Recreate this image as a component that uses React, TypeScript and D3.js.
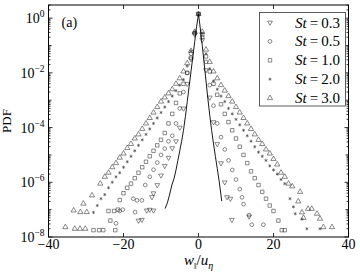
import React, { useEffect, useRef } from "react";
import * as d3 from "d3";

// values: w (in u_eta units) and log10 of the PDF
const st03W = [-16, -15.1, -13.8, -13, -12.4, -12, -12, -11, -10, -9, -8, -7, -6, -5, -4, -3, -2, -1, 0, 1, 2, 3, 4, 5, 6, 7, 7.6, 8.5, 8.9, 13.5];
const st03LogPdf = [-7.4, -7.37, -7.03, -7.0, -6.54, -6.4, -7.03, -6.1, -5.75, -5.4, -5.1, -4.75, -4.5, -4.0, -3.3, -2.4, -1.5, -0.6, 0.15, -0.8, -1.9, -2.9, -3.8, -4.6, -5.3, -6.0, -6.54, -6.6, -7.37, -7.25];

const st05W = [-22, -21, -20.2, -17.4, -16.9, -16.4, -15.1, -14.2, -13, -12, -11, -10, -9, -8, -7, -6, -5, -4, -3, -2, -1, 0, 1, 2, 3, 4, 5, 6, 7, 8, 9, 10, 11, 11.6, 12, 13.5, 14.2, 17.3];
const st05LogPdf = [-7.5, -7.05, -7.0, -6.6, -7.09, -6.66, -6.66, -6.1, -5.8, -5.54, -5.28, -5.0, -4.77, -4.5, -4.3, -3.85, -3.3, -2.7, -2.0, -1.3, -0.55, 0.15, -0.7, -1.6, -2.45, -3.2, -3.85, -4.35, -4.8, -5.2, -5.55, -5.9, -6.25, -6.55, -6.8, -7.2, -7.55, -7.55];

const st10W = [-28, -26.5, -25.4, -24, -23.5, -22.5, -22.2, -21.5, -21, -20, -19, -18, -17, -16, -15, -14, -13, -12, -11, -10, -9, -8, -7, -6, -5, -4, -3, -2, -1, 0, 1, 2, 3, 4, 5, 6, 7, 8, 9, 10, 11, 12, 13, 14, 15, 16, 17, 18, 19, 20, 21.3, 22.2, 23];
const st10LogPdf = [-7.75, -7.75, -7.75, -7.05, -7.4, -7.05, -7.75, -7.0, -6.65, -6.4, -6.2, -6.05, -5.85, -5.65, -5.45, -5.25, -5.05, -4.85, -4.65, -4.45, -4.2, -3.85, -3.5, -3.1, -2.75, -2.4, -2.0, -1.45, -0.55, 0.15, -0.6, -1.4, -1.95, -2.4, -2.8, -3.15, -3.5, -3.8, -4.1, -4.4, -4.7, -5.0, -5.3, -5.6, -5.85, -6.1, -6.35, -6.6, -6.85, -7.05, -7.4, -7.75, -7.75];

const st20W = [-28, -27, -26, -25, -24, -23, -22, -21, -20, -19, -18, -17, -16, -15, -14, -13, -12, -11, -10, -9, -8, -7, -6, -5, -4, -3, -2, -1, 0, 1, 2, 3, 4, 5, 6, 7, 8, 9, 10, 11, 12, 13, 14, 15, 16, 17, 18, 19, 20, 21, 22, 23, 24.4, 25.3, 25.8, 27.6, 28.9, 32.4];
const st20LogPdf = [-7.1, -6.85, -6.6, -6.45, -6.2, -6.0, -5.8, -5.65, -5.45, -5.25, -5.05, -4.85, -4.65, -4.45, -4.25, -4.05, -3.85, -3.65, -3.45, -3.25, -3.05, -2.85, -2.65, -2.45, -2.25, -1.75, -1.2, -0.5, 0.15, -0.55, -1.3, -1.85, -2.3, -2.6, -2.85, -3.05, -3.3, -3.5, -3.7, -3.9, -4.1, -4.3, -4.5, -4.7, -4.9, -5.05, -5.2, -5.4, -5.55, -5.7, -5.9, -6.05, -6.6, -6.9, -7.15, -7.35, -7.7, -7.7];

const st30W = [-35.5, -33.3, -33, -31.6, -31.5, -30.7, -30.2, -29.8, -28.4, -26.2, -25, -24, -23, -22, -21, -20, -19, -18, -17, -16, -15, -14, -13, -12, -11, -10, -9, -8, -7, -6, -5, -4, -3, -2, -1, 0, 1, 2, 3, 4, 5, 6, 7, 8, 9, 10, 11, 12, 13, 14, 15, 16, 17, 18, 19, 20, 21, 22, 23, 24, 25, 26.6, 27.1, 27.6, 28, 29.2, 30.2, 31.6, 32.4, 33.3, 35.6];
const st30LogPdf = [-7.64, -7.03, -7.7, -7.7, -7.09, -6.78, -7.7, -7.09, -6.48, -6.05, -5.8, -5.65, -5.45, -5.3, -5.1, -4.95, -4.75, -4.6, -4.4, -4.25, -4.05, -3.85, -3.65, -3.45, -3.25, -3.05, -2.9, -2.75, -2.6, -2.4, -2.2, -1.95, -1.65, -1.2, -0.5, 0.15, -0.5, -1.15, -1.6, -1.95, -2.2, -2.45, -2.65, -2.85, -3.05, -3.25, -3.45, -3.65, -3.85, -4.05, -4.25, -4.45, -4.6, -4.8, -4.95, -5.15, -5.35, -5.65, -5.8, -6.05, -6.15, -6.7, -6.35, -7.1, -7.3, -6.97, -6.97, -7.15, -7.33, -7.64, -7.64];

// fluid (tracer) curve, solid line
const tracerW = [-8.9, -8.3, -7.8, -7.1, -6.5, -6, -5.5, -5, -4.5, -4, -3.5, -3, -2.5, -2, -1.5, -1, -0.5, 0, 0.5, 1, 1.5, 2, 2.5, 3, 3.5, 4, 4.5, 5, 5.5, 6.2];
const tracerLogPdf = [-6.96, -6.75, -6.5, -6.1, -5.85, -5.55, -5.2, -4.85, -4.5, -4.1, -3.6, -3.05, -2.5, -1.95, -1.4, -0.85, -0.3, 0.15, -0.4, -1.0, -1.65, -2.3, -2.95, -3.55, -4.1, -4.6, -5.05, -5.5, -5.95, -6.69];

const stLabels = ["0.3", "0.5", "1.0", "2.0", "3.0"];
const xTicks = [-40, -20, 0, 20, 40];
const yTickExps = [-8, -6, -4, -2, 0];

const W = 360, H = 275;
const margin = { top: 5, right: 11.5, bottom: 38, left: 48.5 };

export default function App() {
  const ref = useRef<SVGSVGElement>(null);

  useEffect(() => {
    const svg = d3.select(ref.current);
    svg.selectAll("*").remove();
    const x0 = margin.left, x1 = W - margin.right;
    const y0 = margin.top, y1 = H - margin.bottom;

    const x = d3.scaleLinear().domain([-40, 40]).range([x0, x1]);
    const y = d3.scaleLog().domain([1e-8, Math.pow(10, 0.48)]).range([y1, y0]);

    const font = "'Liberation Serif', 'DejaVu Serif', serif";
    const stroke = "#3a3a3a";

    const series = [
      { w: st03W, p: st03LogPdf, type: d3.symbolTriangle, size: 10, rot: 180 },
      { w: st05W, p: st05LogPdf, type: d3.symbolCircle, size: 11, rot: 0 },
      { w: st10W, p: st10LogPdf, type: d3.symbolSquare, size: 12, rot: 0 },
      { w: st20W, p: st20LogPdf, type: (d3 as any).symbolAsterisk || d3.symbolCross, size: 7, rot: 0 },
      { w: st30W, p: st30LogPdf, type: d3.symbolTriangle, size: 12, rot: 0 },
    ];

    const plot = svg.append("g");

    series.forEach((s) => {
      const pts = s.w.map((w, i) => ({ w, p: Math.pow(10, s.p[i]) }));
      const path = d3.symbol().type(s.type).size(s.size)();
      plot.selectAll(null)
        .data(pts)
        .join("path")
        .attr("d", path)
        .attr("transform", (d) => `translate(${x(d.w)},${y(d.p)}) rotate(${s.rot})`)
        .attr("fill", "none")
        .attr("stroke", stroke)
        .attr("stroke-width", 0.6);
    });

    const tracer = tracerW.map((w, i) => ({ w, p: Math.pow(10, tracerLogPdf[i]) }));
    plot.append("path")
      .datum(tracer)
      .attr("fill", "none")
      .attr("stroke", "#000")
      .attr("stroke-width", 0.9)
      .attr("d", d3.line<any>().x((d) => x(d.w)).y((d) => y(d.p)));

    // frame
    svg.append("rect")
      .attr("x", x0).attr("y", y0)
      .attr("width", x1 - x0).attr("height", y1 - y0)
      .attr("fill", "none").attr("stroke", "#000").attr("stroke-width", 1);

    // ticks (inward, all four sides)
    const tk = svg.append("g").attr("stroke", "#000").attr("stroke-width", 0.8);
    xTicks.forEach((t) => {
      tk.append("line").attr("x1", x(t)).attr("x2", x(t)).attr("y1", y1).attr("y2", y1 - 4);
      tk.append("line").attr("x1", x(t)).attr("x2", x(t)).attr("y1", y0).attr("y2", y0 + 4);
    });
    const yMajor = d3.range(-8, 1).map((e) => Math.pow(10, e));
    yMajor.forEach((v, i) => {
      const yy = y(v);
      const len = yTickExps.includes(i - 8) ? 4 : 3;
      tk.append("line").attr("x1", x0).attr("x2", x0 + len).attr("y1", yy).attr("y2", yy);
      tk.append("line").attr("x1", x1).attr("x2", x1 - len).attr("y1", yy).attr("y2", yy);
      for (let m = 2; m <= 9; m++) {
        const ym = y(v * m);
        if (ym < y0) continue;
        tk.append("line").attr("x1", x0).attr("x2", x0 + 2).attr("y1", ym).attr("y2", ym);
        tk.append("line").attr("x1", x1).attr("x2", x1 - 2).attr("y1", ym).attr("y2", ym);
      }
    });

    // x tick labels
    svg.append("g").selectAll("text")
      .data(xTicks).join("text")
      .attr("x", (d) => x(d))
      .attr("y", y1 + 12)
      .attr("text-anchor", "middle")
      .attr("font-family", font)
      .attr("font-size", 14)
      .text((d) => (d < 0 ? "\u2212" + Math.abs(d) : String(d)));

    // y tick labels
    yTickExps.forEach((e) => {
      const t = svg.append("text")
        .attr("x", x0 - 4)
        .attr("y", y(Math.pow(10, e)) + 5)
        .attr("text-anchor", "end")
        .attr("font-family", font)
        .attr("font-size", 14);
      t.append("tspan").text("10");
      t.append("tspan").attr("dy", -6).attr("font-size", 9.5)
        .text(e < 0 ? "\u2212" + Math.abs(e) : String(e));
    });

    // axis titles
    svg.append("text")
      .attr("transform", `translate(${11},${(y0 + y1) / 2}) rotate(-90)`)
      .attr("text-anchor", "middle")
      .attr("font-family", font)
      .attr("font-size", 13)
      .text("PDF");

    const xt = svg.append("text")
      .attr("x", (x0 + x1) / 2)
      .attr("y", H - 10)
      .attr("text-anchor", "middle")
      .attr("font-family", font)
      .attr("font-size", 15);
    xt.append("tspan").attr("font-style", "italic").text("w");
    xt.append("tspan").attr("font-size", 9).attr("dy", 4).text("\u2016");
    xt.append("tspan").attr("dy", -4).text("/");
    xt.append("tspan").attr("font-style", "italic").text("u");
    xt.append("tspan").attr("font-size", 10).attr("dy", 4).attr("font-style", "italic").text("\u03b7");

    svg.append("text")
      .attr("x", x0 + 13).attr("y", 27)
      .attr("font-family", font).attr("font-size", 14)
      .text("(a)");

    // legend
    const lg = svg.append("g");
    lg.append("rect")
      .attr("x", 259.5).attr("y", 12.5)
      .attr("width", 86).attr("height", 93.5)
      .attr("fill", "#fff").attr("stroke", "#333").attr("stroke-width", 0.8);
    stLabels.forEach((lab, i) => {
      const cy = 22.5 + i * 18.9;
      const s = series[i];
      lg.append("path")
        .attr("d", d3.symbol().type(s.type).size(s.size)())
        .attr("transform", `translate(270,${cy}) rotate(${s.rot})`)
        .attr("fill", "none").attr("stroke", stroke).attr("stroke-width", 0.6);
      const t = lg.append("text")
        .attr("x", 295).attr("y", cy + 5)
        .attr("font-family", font).attr("font-size", 15);
      t.append("tspan").attr("font-style", "italic").text("St");
      t.append("tspan").text("\u2009=\u2009" + lab);
    });
  }, []);

  return (
    <svg ref={ref} width={W} height={H}
      style={{ position: "absolute", left: 0, top: 0, background: "#fff" }} />
  );
}
